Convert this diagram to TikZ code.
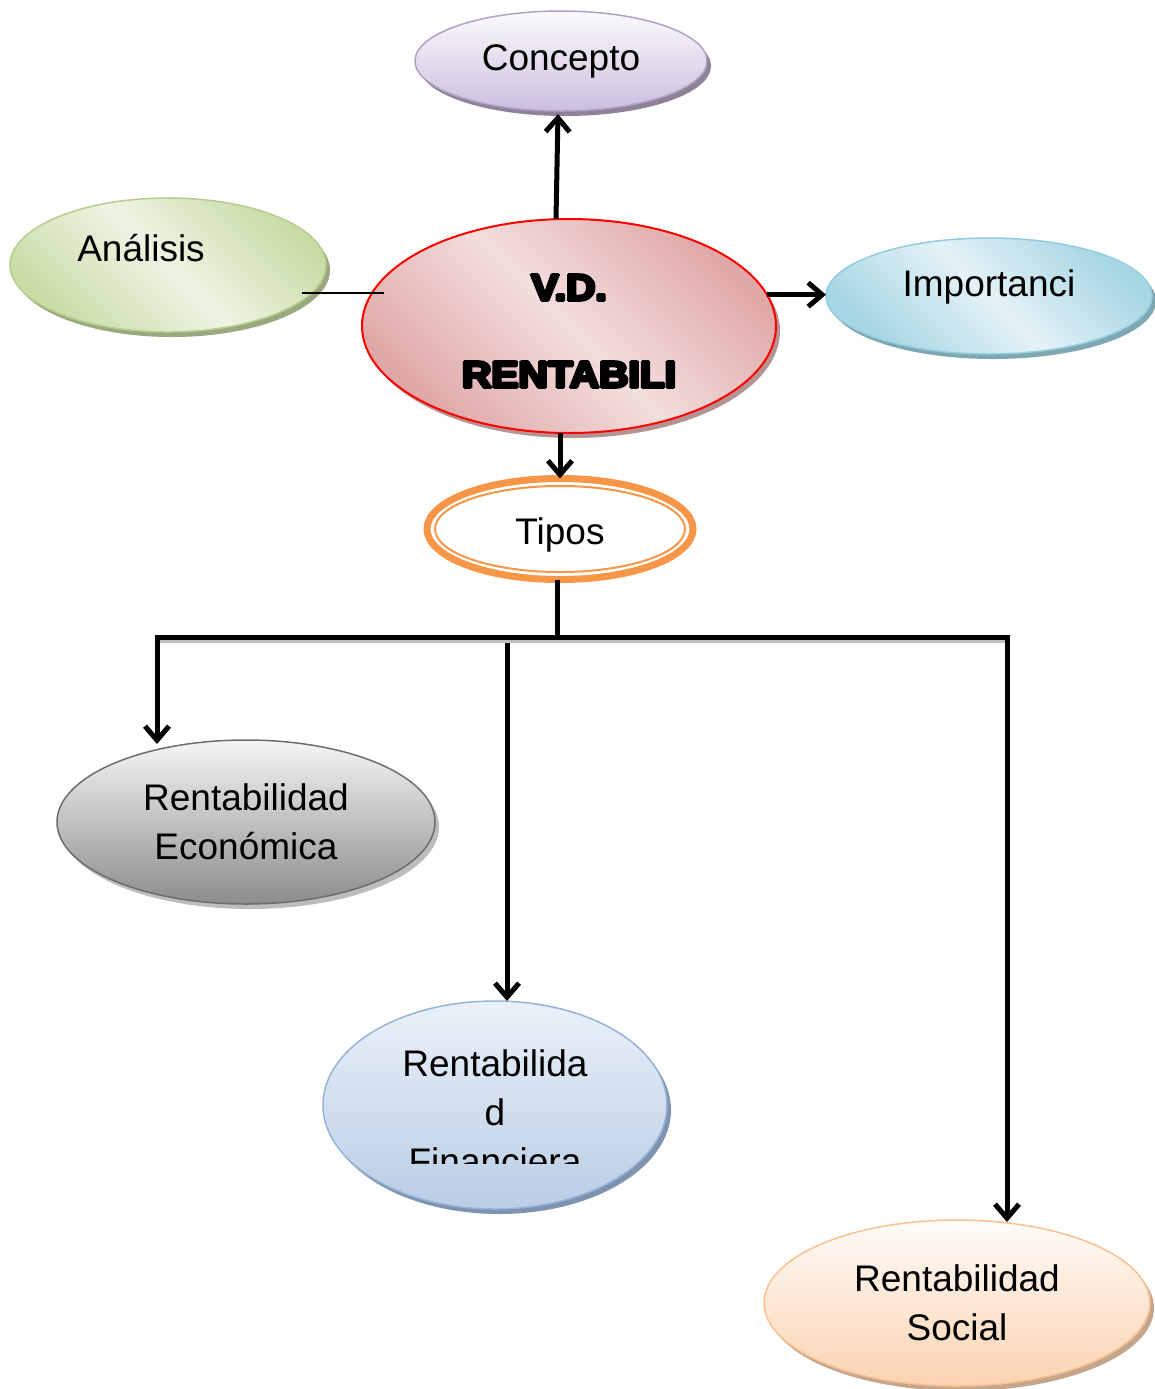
\documentclass[tikz,border=0pt]{standalone}
\usepackage{fontspec}
\setmainfont{Liberation Sans}
\newfontfamily\blackfont[FakeStretch=1.1,FakeBold=3]{Liberation Sans Bold}
\newcommand\heavyx[1]{\leavevmode\rlap{\hspace{0.6pt}#1}\rlap{\hspace{-0.6pt}#1}\rlap{\raisebox{0.5pt}{#1}}\rlap{\raisebox{-0.5pt}{#1}}#1}
\usetikzlibrary{shapes.geometric,arrows.meta,shadows,calc}
\definecolor{cTop}{HTML}{FBFAFD}\definecolor{cBot}{HTML}{CBBFDC}\definecolor{cBd}{HTML}{B2A1C7}\definecolor{cSh}{HTML}{8E8299}
\definecolor{aL}{HTML}{EEF4E4}\definecolor{aD}{HTML}{C9DCA6}\definecolor{aBd}{HTML}{B5CD8D}\definecolor{aSh}{HTML}{9AA880}
\definecolor{vL}{HTML}{F3DEDE}\definecolor{vD}{HTML}{E0A7A7}\definecolor{vSh}{HTML}{B39393}
\definecolor{iL}{HTML}{E4F2F7}\definecolor{iD}{HTML}{A6D6E3}\definecolor{iBd}{HTML}{93CDDD}\definecolor{iSh}{HTML}{7FA7B2}
\definecolor{eTop}{HTML}{F5F5F5}\definecolor{eBot}{HTML}{8C8C8C}\definecolor{eBd}{HTML}{6D6D6D}\definecolor{eSh}{HTML}{BDBDBD}
\definecolor{fTop}{HTML}{EBF1F9}\definecolor{fBot}{HTML}{B9CDE5}\definecolor{fBd}{HTML}{95B3D7}\definecolor{fSh}{HTML}{7E94AE}
\definecolor{sTop}{HTML}{FEFBF8}\definecolor{sBot}{HTML}{FBD3B2}\definecolor{sBd}{HTML}{FAC090}\definecolor{sSh}{HTML}{C4A58E}
\definecolor{orT}{HTML}{F79646}
\begin{document}
\begin{tikzpicture}[x=0.5pt,y=-0.5pt,
  every node/.style={inner sep=0pt, outer sep=0pt},
  ell/.style={ellipse, line width=0.75pt},
  shad/.style={general shadow={shadow xshift=2pt, shadow yshift=-2.5pt, fill=#1}},
  arr/.style={line width=2.5pt, -{Straight Barb[length=7pt,width=12pt]}},
  conn/.style={line width=2.5pt},
  txt/.style={font=\fontsize{18.5}{24.5}\selectfont, align=center},
  diag/.style n args={2}{left color=#1, right color=#1, middle color=#2, shading angle=-45},
]
\useasboundingbox (0,0) rectangle (1155,1389);

% nodes
\node[ell, shad=cSh, draw=cBd, top color=cTop, bottom color=cBot, minimum width=146pt, minimum height=50pt, txt] (conc) at (561,61) {Concepto};

\node[ell, shad=aSh, draw=aBd, diag={aD}{aL}, minimum width=158pt, minimum height=67pt] (ana) at (168,265) {};
\node[txt] (anat) at ([shift={(-27,-17)}]ana.center) {Análisis};

\node[ell, shad=iSh, draw=iBd, diag={iD}{iL}, minimum width=163pt, minimum height=58pt] (imp) at (989,296) {};
\node[txt] (impt) at ([shift={(0,-9)}]imp.center) {Importanci};

\node[ell, shad=vSh, draw=red, line width=1pt, diag={vD}{vL}, minimum width=207pt, minimum height=107pt] (vd) at (569,326) {};
\node[font=\blackfont\fontsize{18.5}{43.5}\selectfont, align=center] (vdt) at ([yshift=-2.5pt]vd.center) {\heavyx{V.D.}\\\heavyx{RENTABILI}};

\node[ellipse, draw=orT, line width=3.5pt, fill=white, minimum width=133pt, minimum height=50.5pt] (tipos) at (560,529) {};
\draw[draw=orT, line width=1pt] (tipos.center) ellipse [x radius=62.5pt, y radius=21.5pt];
\node[txt] (tipost) at ([yshift=-3pt]tipos.center) {Tipos};

\node[ell, shad=eSh, draw=eBd, top color=eTop, bottom color=eBot, minimum width=189pt, minimum height=82pt, txt] (eco) at (246,822) {Rentabilidad\\Económica};

\node[ell, shad=fSh, draw=fBd, top color=fTop, bottom color=fBot, minimum width=172pt, minimum height=104pt] (fin) at (495,1105) {};
\begin{scope}
  \clip (323,1000) rectangle (668,1163);
  \node[txt] (fint) at (495,1112) {Rentabilida\\d\\Financiera};
\end{scope}

\node[ell, shad=sSh, draw=sBd, top color=sTop, bottom color=sBot, minimum width=193pt, minimum height=83pt, txt] (soc) at (957,1303) {Rentabilidad\\Social};

% connectors
\draw[arr] ([xshift=-6.5pt]vd.north) -- ([xshift=-1.5pt,yshift=-1.5pt]conc.south);
\draw[arr] (vd.9) -- (vd.9 -| imp.west);
\draw[line width=0.8pt] ([xshift=-5pt]ana.-11) -- ([xshift=11pt]ana.-11 -| vd.west);
\draw[arr] (vd.south -| tipos.north) -- (tipos.north);

\coordinate (barL) at (157,637);
\coordinate (barR) at (1007,637);
\coordinate (mid) at (507,643);
\draw[conn] ([xshift=-1.5pt]tipos.south) -- ([xshift=-1.5pt]tipos.south |- barL);
\draw[line width=2pt, black!25] ([shift={(2,4)}]barL) -- ([shift={(2,4)}]barR);
\draw[conn, line cap=rect] (barL) -- (barR);
\draw[arr] (barL) -- ([yshift=-2pt]barL |- eco.north);
\draw[arr] (mid) -- (mid |- fin.north);
\draw[arr] (barR) -- ([yshift=-1pt]barR |- soc.north);
\end{tikzpicture}
\end{document}
